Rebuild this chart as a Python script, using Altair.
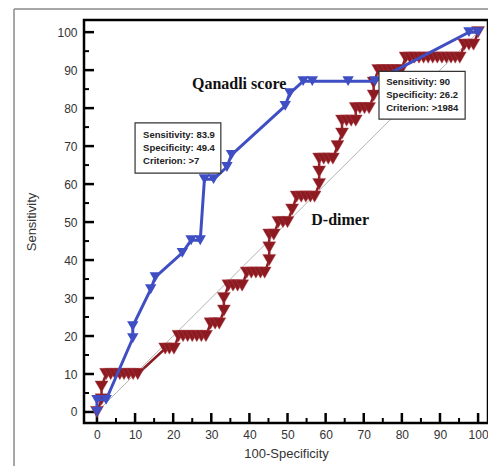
import altair as alt
import pandas as pd

# ---------------- data ----------------
qanadli_x = [0, 0, 2.4, 9.4, 9.4, 14.1, 15.3, 22.4, 24.7, 27.1, 28.2, 30.6, 34.1, 35.3,
             49.4, 50.6, 54.1, 56.5, 65.9, 72.9, 97.6, 100]
qanadli_y = [0, 3.2, 3.2, 19.4, 22.6, 32.3, 35.5, 41.9, 45.2, 45.2, 61.3, 61.3, 64.5, 67.7,
             80.6, 83.9, 87.1, 87.1, 87.1, 87.1, 100, 100]

ddimer_x = [0, 1.2, 1.2,
            2.4, 3.6, 4.8, 6.0, 7.1, 8.3, 9.5, 10.7,
            17.9, 19.0, 20.2,
            21.4, 22.6, 23.8, 25.0, 26.2, 27.4, 28.6,
            29.8, 31.0, 32.1,
            33.3, 33.3,
            34.5, 35.7, 36.9, 38.1,
            39.3, 40.5, 41.7, 42.9, 44.0,
            45.2, 45.2,
            45.2, 46.4,
            47.6, 48.8, 50.0,
            51.2,
            52.4, 53.6, 54.8, 56.0, 57.1,
            58.3, 58.3,
            58.3, 59.5, 60.7, 61.9,
            63.1,
            64.3,
            64.3, 65.5, 66.7, 67.9,
            67.9, 69.0, 70.2, 71.4,
            72.6, 72.6,
            73.8, 75.0, 76.2, 77.4, 78.6, 79.8,
            81.0, 82.1, 83.3, 84.5, 85.7, 86.9, 88.1, 89.3, 90.5, 91.7, 92.9, 94.0, 95.2,
            96.4, 97.6, 98.8,
            100]
ddimer_y = [0, 3.3, 6.7,
            10, 10, 10, 10, 10, 10, 10, 10,
            16.7, 16.7, 16.7,
            20, 20, 20, 20, 20, 20, 20,
            23.3, 23.3, 23.3,
            26.7, 30,
            33.3, 33.3, 33.3, 33.3,
            36.7, 36.7, 36.7, 36.7, 36.7,
            40, 43.3,
            46.7, 46.7,
            50, 50, 50,
            53.3,
            56.7, 56.7, 56.7, 56.7, 56.7,
            60, 63.3,
            66.7, 66.7, 66.7, 66.7,
            70,
            73.3,
            76.7, 76.7, 76.7, 76.7,
            80, 80, 80, 80,
            83.3, 86.7,
            90, 90, 90, 90, 90, 90,
            93.3, 93.3, 93.3, 93.3, 93.3, 93.3, 93.3, 93.3, 93.3, 93.3, 93.3, 93.3, 93.3,
            96.7, 96.7, 96.7,
            100]

major_ticks = [0, 10, 20, 30, 40, 50, 60, 70, 80, 90, 100]
minor_ticks = [5, 15, 25, 35, 45, 55, 65, 75, 85, 95]

box1_lines = ["Sensitivity: 83.9", "Specificity: 49.4", "Criterion: >7"]
box2_lines = ["Sensitivity: 90", "Specificity: 26.2", "Criterion: >1984"]

# ---------------- styling ----------------
BLUE = "#3F4FC3"
RED = "#8C1A20"
W, H = 404, 403
xs = alt.Scale(domain=[-3.4, 102.6], nice=False, zero=False)
ys = alt.Scale(domain=[-2.9, 103.2], nice=False, zero=False)

x_axis = alt.Axis(values=major_ticks, tickSize=0, domain=False, grid=False,
                  labelPadding=6, titlePadding=7)
y_axis = alt.Axis(values=major_ticks, tickSize=0, domain=False, grid=False,
                  labelPadding=7, titlePadding=18)


def X(f):
    return alt.X(f, type="quantitative", scale=xs, axis=x_axis, title="100-Specificity")


def Y(f):
    return alt.Y(f, type="quantitative", scale=ys, axis=y_axis, title="Sensitivity")


q = pd.DataFrame({"x": qanadli_x, "y": qanadli_y, "i": list(range(len(qanadli_x)))})
d = pd.DataFrame({"x": ddimer_x, "y": ddimer_y, "i": list(range(len(ddimer_x)))})

# diagonal reference line
diag = alt.Chart(pd.DataFrame({"x": [0, 100], "y": [0, 100]})).mark_line(
    color="#b4b4b4", strokeWidth=1
).encode(x=X("x"), y=Y("y"))

# outer gray figure frame (left and top edges)
frame_left = alt.Chart(pd.DataFrame({"a": [0]})).mark_rule(color="#8a8a8a", strokeWidth=1.5).encode(
    x=alt.value(-70), y=alt.value(-11), y2=alt.value(470))
frame_top = alt.Chart(pd.DataFrame({"a": [0]})).mark_rule(color="#8a8a8a", strokeWidth=1.5).encode(
    x=alt.value(-70), x2=alt.value(420), y=alt.value(-11))

# inward ticks
tmaj = pd.DataFrame({"v": major_ticks})
tmin = pd.DataFrame({"v": minor_ticks})
xmaj = alt.Chart(tmaj).mark_rule(color="black", strokeWidth=2.5).encode(
    x=X("v"), y=alt.value(H), y2=alt.value(H - 10))
xmin = alt.Chart(tmin).mark_rule(color="black", strokeWidth=2).encode(
    x=X("v"), y=alt.value(H), y2=alt.value(H - 5))
ymaj = alt.Chart(tmaj).mark_rule(color="black", strokeWidth=2.5).encode(
    y=Y("v"), x=alt.value(0), x2=alt.value(10))
ymin = alt.Chart(tmin).mark_rule(color="black", strokeWidth=2).encode(
    y=Y("v"), x=alt.value(0), x2=alt.value(5))

# curves
red_line = alt.Chart(d).mark_line(color=RED, strokeWidth=2.5).encode(
    x=X("x"), y=Y("y"), order="i:Q")
red_pts = alt.Chart(d).mark_point(shape="triangle-down", filled=True, color=RED,
                                  size=170, opacity=1, stroke="#b04a50", strokeWidth=0.4).encode(
    x=X("x"), y=Y("y"))
blue_line = alt.Chart(q).mark_line(color=BLUE, strokeWidth=3).encode(
    x=X("x"), y=Y("y"), order="i:Q")
blue_pts = alt.Chart(q).mark_point(shape="triangle-down", filled=True, color=BLUE,
                                   size=130, opacity=1).encode(
    x=X("x"), y=Y("y"))

# curve labels
labels = alt.Chart(pd.DataFrame({
    "x": [37.3, 63.8], "y": [86.3, 50.5], "t": ["Qanadli score", "D-dimer"]})).mark_text(
    font="Liberation Serif", fontSize=16, fontWeight="bold", color="#111",
    align="center", baseline="middle").encode(
    x=X("x"), y=Y("y"), text="t:N")

# criterion boxes
boxes = alt.Chart(pd.DataFrame({
    "x1": [10.0, 74.0], "x2": [32.5, 96.6], "y1": [62.9, 77.1], "y2": [76.1, 89.7]})).mark_rect(
    fill="white", stroke="#333", strokeWidth=1.2).encode(
    x=X("x1"), x2="x2:Q", y=Y("y1"), y2="y2:Q")

box_text = alt.Chart(pd.DataFrame({
    "x": [12.1, 12.1, 12.1, 75.9, 75.9, 75.9],
    "y": [72.9, 69.5, 66.0, 86.8, 83.4, 80.0],
    "t": box1_lines + box2_lines})).mark_text(
    font="Liberation Sans", fontSize=9.5, fontWeight="bold",
    color="#222", align="left", baseline="middle").encode(
    x=X("x"), y=Y("y"), text="t:N")

chart = alt.layer(
    diag, frame_left, frame_top, xmaj, xmin, ymaj, ymin,
    red_line, red_pts, blue_line, blue_pts, labels, boxes, box_text
).properties(
    width=W, height=H,
    autosize=alt.AutoSizeParams(type="none"),
    padding={"left": 76, "top": 12, "right": 0, "bottom": 43},
    background="white",
).configure_view(
    stroke="black", strokeWidth=2.5, fill="white"
).configure_axis(
    labelFont="Liberation Sans", labelFontSize=12, labelColor="#333",
    titleFont="Liberation Sans", titleFontSize=13, titleFontWeight="normal", titleColor="#333",
)

chart.save("out.html", embed_options={"renderer": "svg", "actions": False})
